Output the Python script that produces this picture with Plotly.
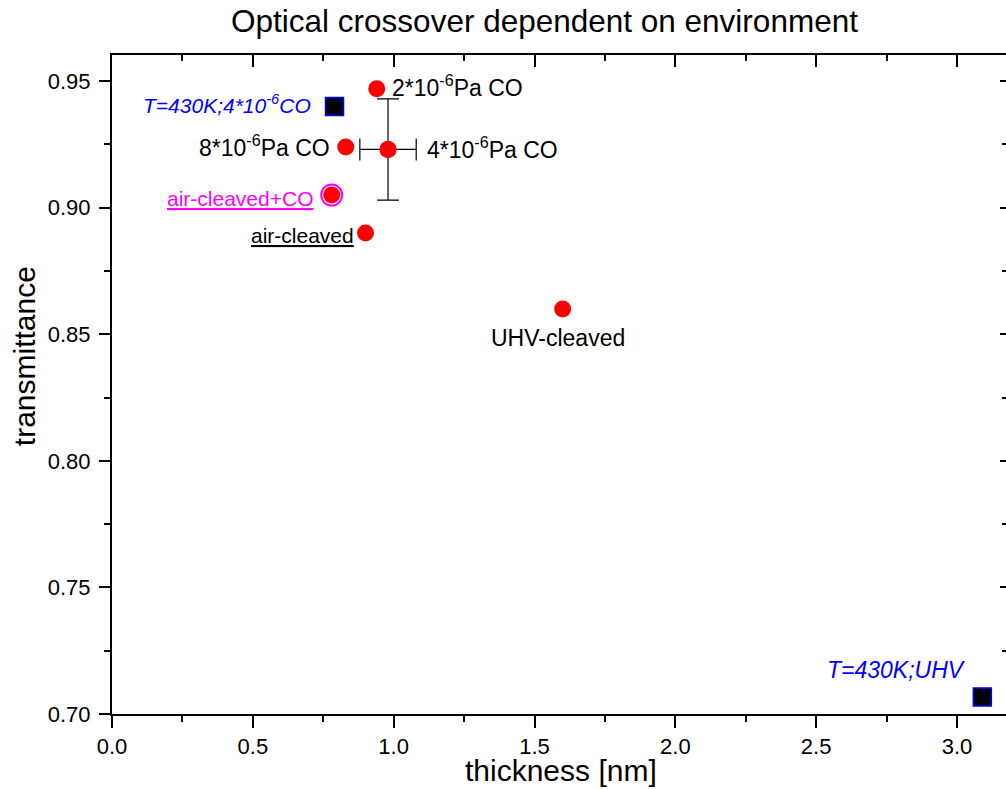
import plotly.graph_objects as go

# ---- data ----
labels = ["2*10<sup>-6</sup>Pa CO", "8*10<sup>-6</sup>Pa CO", "4*10<sup>-6</sup>Pa CO",
          "air-cleaved+CO", "air-cleaved", "UHV-cleaved"]
thickness = [0.94, 0.83, 0.98, 0.78, 0.90, 1.60]
transmittance = [0.947, 0.924, 0.923, 0.905, 0.890, 0.860]

err_point_x = [0.98]
err_point_y = [0.923]
err_x = [0.10]
err_y = [0.02]

sq_labels = ["T=430K;4*10<sup>-6</sup>CO", "T=430K;UHV"]
sq_thickness = [0.79, 3.09]
sq_transmittance = [0.940, 0.7067]

ring_x = [0.78]
ring_y = [0.905]

x_range = [0.0, 3.174]
y_range = [0.70, 0.9603]
x_ticks = [0.0, 0.5, 1.0, 1.5, 2.0, 2.5, 3.0]
y_ticks = [0.70, 0.75, 0.80, 0.85, 0.90, 0.95]

FONT = "Liberation Sans, Arial, sans-serif"

fig = go.Figure()

# magenta ring behind air-cleaved+CO
fig.add_trace(go.Scatter(x=ring_x, y=ring_y, mode="markers",
                         marker=dict(size=21, color="white",
                                     line=dict(color="#FF00FF", width=2)),
                         showlegend=False, hoverinfo="skip"))
# red circles
fig.add_trace(go.Scatter(x=thickness, y=transmittance, mode="markers",
                         marker=dict(size=17, color="#FF0000", line=dict(width=0)),
                         showlegend=False))
# error bars
fig.add_trace(go.Scatter(x=err_point_x, y=err_point_y, mode="markers",
                         marker=dict(size=17, color="#FF0000"),
                         error_x=dict(type="data", array=err_x, color="black",
                                      thickness=1.2, width=11),
                         error_y=dict(type="data", array=err_y, color="black",
                                      thickness=1.2, width=11),
                         showlegend=False))
# squares
fig.add_trace(go.Scatter(x=sq_thickness, y=sq_transmittance, mode="markers",
                         marker=dict(symbol="square", size=18, color="black",
                                     line=dict(color="#0000FF", width=1.5)),
                         showlegend=False))
# dummy trace for mirror axes
fig.add_trace(go.Scatter(x=[], y=[], xaxis="x2", yaxis="y2", showlegend=False))

# ---- annotations (offsets in pixels from their points) ----
ann_style = [
    dict(xanchor="left", xshift=13, yshift=3, color="black", u=False, size=23),
    dict(xanchor="right", xshift=-14, yshift=1, color="black", u=False, size=23),
    dict(xanchor="left", xshift=37, yshift=1, color="black", u=False, size=23),
    dict(xanchor="right", xshift=-17, yshift=-3, color="#FF00FF", u=True, size=21),
    dict(xanchor="right", xshift=-10, yshift=-3, color="black", u=True, size=21),
    dict(xanchor="center", xshift=-5, yshift=-29, color="black", u=False, size=23),
]
annotations = []
for lab, x, y, st in zip(labels, thickness, transmittance, ann_style):
    txt = f"<u>{lab}</u>" if st["u"] else lab
    annotations.append(dict(x=x, y=y, xref="x", yref="y", text=txt, showarrow=False,
                            xanchor=st["xanchor"], yanchor="middle",
                            xshift=st["xshift"], yshift=st["yshift"],
                            font=dict(family=FONT, size=st["size"], color=st["color"])))
sq_style = [dict(xanchor="right", xshift=-22, yshift=2, size=21),
            dict(xanchor="center", xshift=-86, yshift=27, size=23)]
for lab, x, y, st in zip(sq_labels, sq_thickness, sq_transmittance, sq_style):
    annotations.append(dict(x=x, y=y, xref="x", yref="y", text=f"<i>{lab}</i>",
                            showarrow=False, xanchor=st["xanchor"], yanchor="middle",
                            xshift=st["xshift"], yshift=st["yshift"],
                            font=dict(family=FONT, size=st["size"], color="#0000FF")))
# axis titles
annotations.append(dict(x=0.5, y=0, xref="paper", yref="paper", text="thickness [nm]",
                        showarrow=False, xanchor="center", yanchor="middle", yshift=-56,
                        xshift=2, font=dict(family=FONT, size=30, color="black")))
annotations.append(dict(x=0, y=0.543, xref="paper", yref="paper", text="transmittance",
                        showarrow=False, xanchor="center", yanchor="middle", xshift=-88,
                        textangle=-90, font=dict(family=FONT, size=30, color="black")))

axis_common = dict(showgrid=False, zeroline=False, showline=True, linecolor="black",
                   linewidth=2, tickcolor="black", tickwidth=1.5,
                   tickfont=dict(family=FONT, size=22, color="black"))

fig.update_layout(
    width=1006, height=789,
    margin=dict(l=112, r=0, t=55, b=75),
    paper_bgcolor="white", plot_bgcolor="white",
    title=dict(text="Optical crossover dependent on environment",
               x=544.5 / 1006, xref="container", xanchor="center",
               y=1 - 21 / 789, yref="container", yanchor="middle",
               font=dict(family=FONT, size=31.5, color="black")),
    xaxis=dict(range=x_range, tickvals=x_ticks, ticktext=[f"{v:.1f}" for v in x_ticks],
               ticks="outside", ticklen=12, ticklabelstandoff=0,
               minor=dict(dtick=0.25, tick0=0, ticks="outside", ticklen=6,
                          tickcolor="black", tickwidth=1.5),
               **axis_common),
    yaxis=dict(range=y_range, tickvals=y_ticks, ticktext=[f"{v:.2f}" for v in y_ticks],
               ticks="outside", ticklen=11, ticklabelstandoff=4,
               minor=dict(dtick=0.025, tick0=0.7, ticks="outside", ticklen=6,
                          tickcolor="black", tickwidth=1.5),
               **axis_common),
    xaxis2=dict(range=x_range, overlaying="x", side="top", anchor="y2",
                tickvals=x_ticks, showticklabels=False, ticks="inside", ticklen=12,
                minor=dict(dtick=0.25, tick0=0, ticks="inside", ticklen=6,
                           tickcolor="black", tickwidth=1.5),
                showgrid=False, zeroline=False, showline=True, linecolor="black",
                linewidth=2, tickcolor="black", tickwidth=1.5),
    yaxis2=dict(range=y_range, overlaying="y", side="right", anchor="x2",
                tickvals=y_ticks, showticklabels=False, ticks="inside", ticklen=6,
                minor=dict(dtick=0.025, tick0=0.7, ticks="inside", ticklen=4,
                           tickcolor="black", tickwidth=1.5),
                showgrid=False, zeroline=False, showline=True, linecolor="black",
                linewidth=2, tickcolor="black", tickwidth=1.5),
    annotations=annotations,
    showlegend=False,
)

fig.write_html("out.html")
